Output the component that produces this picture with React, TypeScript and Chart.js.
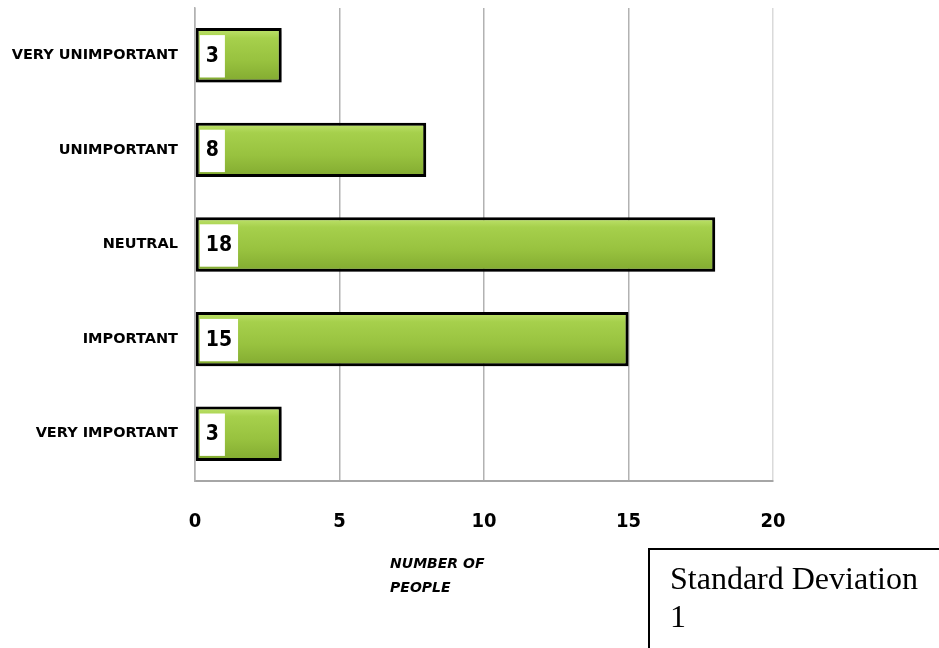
import React, { useEffect, useRef } from "react";
import { Chart, registerables } from "chart.js";

Chart.register(...registerables);

// Survey responses: how many people chose each rating
const categories = [
  "VERY UNIMPORTANT",
  "UNIMPORTANT",
  "NEUTRAL",
  "IMPORTANT",
  "VERY IMPORTANT",
];
const peopleCounts = [3, 8, 18, 15, 3];
const xTicks = [0, 5, 10, 15, 20];
const axisTitleLines = ["NUMBER OF", "PEOPLE"];
const stdDevLines = ["Standard Deviation", "1"];

const W = 939;
const H = 648;

// White value box at the base of each bar, plus a soft drop shadow on the bars
const barDecorations = {
  id: "barDecorations",
  beforeDatasetsDraw(chart: any) {
    const ctx = chart.ctx;
    ctx.save();
    ctx.shadowColor = "rgba(0,0,0,0.28)";
    ctx.shadowOffsetX = 2;
    ctx.shadowOffsetY = 2;
    ctx.shadowBlur = 4;
  },
  afterDatasetsDraw(chart: any) {
    const ctx = chart.ctx;
    ctx.restore();
    const meta = chart.getDatasetMeta(0);
    const data = chart.data.datasets[0].data as number[];
    ctx.save();
    ctx.font = 'bold 21px "DejaVu Sans Condensed", "DejaVu Sans", sans-serif';
    ctx.textBaseline = "middle";
    ctx.textAlign = "center";
    meta.data.forEach((bar: any, i: number) => {
      const { y, base, height } = bar.getProps(["y", "base", "height"], true);
      const label = String(data[i]);
      const tw = ctx.measureText(label).width;
      const boxW = tw + 12;
      const left = base + 4;
      const top = y - height / 2 + 7;
      const boxH = height - 12;
      ctx.fillStyle = "#ffffff";
      ctx.fillRect(left, top, boxW, boxH);
      ctx.fillStyle = "#000000";
      ctx.fillText(label, left + boxW / 2, y + 1);
    });
    ctx.restore();
  },
};

// Two-line italic title under the value axis
const axisTitle = {
  id: "axisTitle",
  afterDraw(chart: any) {
    const ctx = chart.ctx;
    const xs = chart.scales.x;
    const left = xs.getPixelForValue(6.75);
    ctx.save();
    ctx.font = 'italic bold 14px "DejaVu Sans", sans-serif';
    ctx.fillStyle = "#000000";
    ctx.textAlign = "left";
    ctx.textBaseline = "alphabetic";
    axisTitleLines.forEach((line, i) => {
      ctx.fillText(line, left, 568 + i * 24);
    });
    ctx.restore();
  },
};

export default function App() {
  const canvasRef = useRef<HTMLCanvasElement | null>(null);

  useEffect(() => {
    document.body.style.margin = "0";
    const canvas = canvasRef.current;
    if (!canvas) return;

    const chart = new Chart(canvas, {
      type: "bar",
      data: {
        labels: categories,
        datasets: [
          {
            data: peopleCounts,
            backgroundColor: (c: any) => {
              const ch = c.chart;
              if (!ch.chartArea || c.dataIndex === undefined) return "#9cc744";
              const yc = ch.scales.y.getPixelForValue(c.dataIndex);
              const g = ch.ctx.createLinearGradient(0, yc - 27, 0, yc + 27);
              g.addColorStop(0, "#c0e46e");
              g.addColorStop(0.18, "#a6d04c");
              g.addColorStop(0.6, "#98c23f");
              g.addColorStop(1, "#82aa30");
              return g;
            },
            borderColor: "#000000",
            borderWidth: 3,
            borderSkipped: false,
            categoryPercentage: 1,
            barPercentage: 0.575,
          },
        ],
      },
      options: {
        indexAxis: "y",
        responsive: false,
        animation: false,
        devicePixelRatio: 1,
        layout: { padding: { top: 8, right: W - 773, left: 0, bottom: 0 } },
        plugins: {
          legend: { display: false },
          tooltip: { enabled: false },
        },
        scales: {
          x: {
            min: 0,
            max: 20,
            afterBuildTicks: (s: any) => {
              s.ticks = xTicks.map((v) => ({ value: v }));
            },
            afterFit: (s: any) => {
              s.height = H - 481;
              s.paddingLeft = 0;
              s.paddingRight = 0;
            },
            grid: {
              display: true,
              drawTicks: false,
              lineWidth: 1.5,
              color: (c: any) =>
                c.tick && c.tick.value === 20 ? "#dadada" : "#b2b2b2",
            },
            border: { display: true, color: "#a6a6a6", width: 2 },
            ticks: {
              padding: 29,
              color: "#000000",
              font: {
                family: '"DejaVu Sans Condensed", "DejaVu Sans", sans-serif',
                size: 20,
                weight: "bold",
              },
            },
          },
          y: {
            afterFit: (s: any) => {
              s.width = 195;
              s.paddingTop = 0;
              s.paddingBottom = 0;
            },
            grid: { display: false, drawTicks: false },
            border: { display: true, color: "#b2b2b2", width: 1.5 },
            ticks: {
              padding: 17,
              color: "#000000",
              font: {
                family: '"DejaVu Sans", sans-serif',
                size: 14.5,
                weight: "bold",
              },
            },
          },
        },
      },
      plugins: [barDecorations, axisTitle],
    });

    return () => chart.destroy();
  }, []);

  return (
    <div style={{ position: "relative", width: W, height: H, overflow: "hidden", background: "#ffffff" }}>
      <canvas ref={canvasRef} width={W} height={H} style={{ position: "absolute", left: 0, top: 0 }} />
      <div
        style={{
          position: "absolute",
          left: 648,
          top: 548,
          width: 320,
          height: 130,
          border: "2px solid #000000",
          boxSizing: "border-box",
          padding: "9px 0 0 20px",
          fontFamily: '"Liberation Serif", "Times New Roman", serif',
          fontSize: 32,
          lineHeight: "38px",
          color: "#000000",
        }}
      >
        {stdDevLines.map((l, i) => (
          <div key={i}>{l}</div>
        ))}
      </div>
    </div>
  );
}
